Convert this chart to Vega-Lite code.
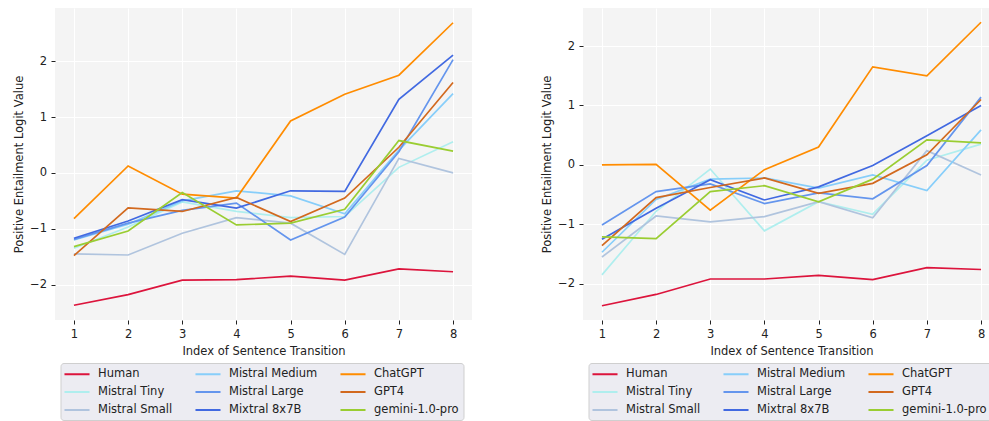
{
"$schema": "https://vega.github.io/schema/vega-lite/v6.json",
"padding": {"left": 13, "top": 8, "right": 0, "bottom": 0},
"background": "white",
"data": {"values": [
{"p":"A","m":"Human","x":1,"y":-2.37},{"p":"A","m":"Human","x":2,"y":-2.18},{"p":"A","m":"Human","x":3,"y":-1.92},{"p":"A","m":"Human","x":4,"y":-1.91},{"p":"A","m":"Human","x":5,"y":-1.85},{"p":"A","m":"Human","x":6,"y":-1.92},{"p":"A","m":"Human","x":7,"y":-1.72},{"p":"A","m":"Human","x":8,"y":-1.77},
{"p":"A","m":"Mistral Tiny","x":1,"y":-1.35},{"p":"A","m":"Mistral Tiny","x":2,"y":-0.97},{"p":"A","m":"Mistral Tiny","x":3,"y":-0.52},{"p":"A","m":"Mistral Tiny","x":4,"y":-0.69},{"p":"A","m":"Mistral Tiny","x":5,"y":-0.8},{"p":"A","m":"Mistral Tiny","x":6,"y":-0.78},{"p":"A","m":"Mistral Tiny","x":7,"y":0.1},{"p":"A","m":"Mistral Tiny","x":8,"y":0.56},
{"p":"A","m":"Mistral Small","x":1,"y":-1.45},{"p":"A","m":"Mistral Small","x":2,"y":-1.47},{"p":"A","m":"Mistral Small","x":3,"y":-1.08},{"p":"A","m":"Mistral Small","x":4,"y":-0.8},{"p":"A","m":"Mistral Small","x":5,"y":-0.9},{"p":"A","m":"Mistral Small","x":6,"y":-1.46},{"p":"A","m":"Mistral Small","x":7,"y":0.26},{"p":"A","m":"Mistral Small","x":8,"y":0.0},
{"p":"A","m":"Mistral Medium","x":1,"y":-1.2},{"p":"A","m":"Mistral Medium","x":2,"y":-0.92},{"p":"A","m":"Mistral Medium","x":3,"y":-0.5},{"p":"A","m":"Mistral Medium","x":4,"y":-0.32},{"p":"A","m":"Mistral Medium","x":5,"y":-0.41},{"p":"A","m":"Mistral Medium","x":6,"y":-0.73},{"p":"A","m":"Mistral Medium","x":7,"y":0.41},{"p":"A","m":"Mistral Medium","x":8,"y":1.42},
{"p":"A","m":"Mistral Large","x":1,"y":-1.19},{"p":"A","m":"Mistral Large","x":2,"y":-0.9},{"p":"A","m":"Mistral Large","x":3,"y":-0.67},{"p":"A","m":"Mistral Large","x":4,"y":-0.54},{"p":"A","m":"Mistral Large","x":5,"y":-1.2},{"p":"A","m":"Mistral Large","x":6,"y":-0.79},{"p":"A","m":"Mistral Large","x":7,"y":0.38},{"p":"A","m":"Mistral Large","x":8,"y":2.03},
{"p":"A","m":"Mixtral 8x7B","x":1,"y":-1.17},{"p":"A","m":"Mixtral 8x7B","x":2,"y":-0.86},{"p":"A","m":"Mixtral 8x7B","x":3,"y":-0.48},{"p":"A","m":"Mixtral 8x7B","x":4,"y":-0.63},{"p":"A","m":"Mixtral 8x7B","x":5,"y":-0.32},{"p":"A","m":"Mixtral 8x7B","x":6,"y":-0.33},{"p":"A","m":"Mixtral 8x7B","x":7,"y":1.32},{"p":"A","m":"Mixtral 8x7B","x":8,"y":2.11},
{"p":"A","m":"ChatGPT","x":1,"y":-0.82},{"p":"A","m":"ChatGPT","x":2,"y":0.125},{"p":"A","m":"ChatGPT","x":3,"y":-0.38},{"p":"A","m":"ChatGPT","x":4,"y":-0.45},{"p":"A","m":"ChatGPT","x":5,"y":0.93},{"p":"A","m":"ChatGPT","x":6,"y":1.41},{"p":"A","m":"ChatGPT","x":7,"y":1.75},{"p":"A","m":"ChatGPT","x":8,"y":2.69},
{"p":"A","m":"GPT4","x":1,"y":-1.48},{"p":"A","m":"GPT4","x":2,"y":-0.625},{"p":"A","m":"GPT4","x":3,"y":-0.69},{"p":"A","m":"GPT4","x":4,"y":-0.44},{"p":"A","m":"GPT4","x":5,"y":-0.87},{"p":"A","m":"GPT4","x":6,"y":-0.45},{"p":"A","m":"GPT4","x":7,"y":0.46},{"p":"A","m":"GPT4","x":8,"y":1.62},
{"p":"A","m":"gemini-1.0-pro","x":1,"y":-1.32},{"p":"A","m":"gemini-1.0-pro","x":2,"y":-1.04},{"p":"A","m":"gemini-1.0-pro","x":3,"y":-0.35},{"p":"A","m":"gemini-1.0-pro","x":4,"y":-0.93},{"p":"A","m":"gemini-1.0-pro","x":5,"y":-0.9},{"p":"A","m":"gemini-1.0-pro","x":6,"y":-0.65},{"p":"A","m":"gemini-1.0-pro","x":7,"y":0.58},{"p":"A","m":"gemini-1.0-pro","x":8,"y":0.39},
{"p":"B","m":"Human","x":1,"y":-2.37},{"p":"B","m":"Human","x":2,"y":-2.18},{"p":"B","m":"Human","x":3,"y":-1.92},{"p":"B","m":"Human","x":4,"y":-1.92},{"p":"B","m":"Human","x":5,"y":-1.86},{"p":"B","m":"Human","x":6,"y":-1.93},{"p":"B","m":"Human","x":7,"y":-1.73},{"p":"B","m":"Human","x":8,"y":-1.76},
{"p":"B","m":"Mistral Tiny","x":1,"y":-1.85},{"p":"B","m":"Mistral Tiny","x":2,"y":-0.78},{"p":"B","m":"Mistral Tiny","x":3,"y":-0.07},{"p":"B","m":"Mistral Tiny","x":4,"y":-1.11},{"p":"B","m":"Mistral Tiny","x":5,"y":-0.62},{"p":"B","m":"Mistral Tiny","x":6,"y":-0.83},{"p":"B","m":"Mistral Tiny","x":7,"y":0.08},{"p":"B","m":"Mistral Tiny","x":8,"y":0.35},
{"p":"B","m":"Mistral Small","x":1,"y":-1.55},{"p":"B","m":"Mistral Small","x":2,"y":-0.86},{"p":"B","m":"Mistral Small","x":3,"y":-0.96},{"p":"B","m":"Mistral Small","x":4,"y":-0.87},{"p":"B","m":"Mistral Small","x":5,"y":-0.62},{"p":"B","m":"Mistral Small","x":6,"y":-0.89},{"p":"B","m":"Mistral Small","x":7,"y":0.24},{"p":"B","m":"Mistral Small","x":8,"y":-0.17},
{"p":"B","m":"Mistral Medium","x":1,"y":-1.47},{"p":"B","m":"Mistral Medium","x":2,"y":-0.58},{"p":"B","m":"Mistral Medium","x":3,"y":-0.24},{"p":"B","m":"Mistral Medium","x":4,"y":-0.22},{"p":"B","m":"Mistral Medium","x":5,"y":-0.39},{"p":"B","m":"Mistral Medium","x":6,"y":-0.17},{"p":"B","m":"Mistral Medium","x":7,"y":-0.43},{"p":"B","m":"Mistral Medium","x":8,"y":0.59},
{"p":"B","m":"Mistral Large","x":1,"y":-1.01},{"p":"B","m":"Mistral Large","x":2,"y":-0.45},{"p":"B","m":"Mistral Large","x":3,"y":-0.32},{"p":"B","m":"Mistral Large","x":4,"y":-0.65},{"p":"B","m":"Mistral Large","x":5,"y":-0.47},{"p":"B","m":"Mistral Large","x":6,"y":-0.57},{"p":"B","m":"Mistral Large","x":7,"y":-0.01},{"p":"B","m":"Mistral Large","x":8,"y":1.14},
{"p":"B","m":"Mixtral 8x7B","x":1,"y":-1.25},{"p":"B","m":"Mixtral 8x7B","x":2,"y":-0.73},{"p":"B","m":"Mixtral 8x7B","x":3,"y":-0.25},{"p":"B","m":"Mixtral 8x7B","x":4,"y":-0.59},{"p":"B","m":"Mixtral 8x7B","x":5,"y":-0.37},{"p":"B","m":"Mixtral 8x7B","x":6,"y":-0.01},{"p":"B","m":"Mixtral 8x7B","x":7,"y":0.49},{"p":"B","m":"Mixtral 8x7B","x":8,"y":1.0},
{"p":"B","m":"ChatGPT","x":1,"y":0.0},{"p":"B","m":"ChatGPT","x":2,"y":0.01},{"p":"B","m":"ChatGPT","x":3,"y":-0.76},{"p":"B","m":"ChatGPT","x":4,"y":-0.08},{"p":"B","m":"ChatGPT","x":5,"y":0.3},{"p":"B","m":"ChatGPT","x":6,"y":1.65},{"p":"B","m":"ChatGPT","x":7,"y":1.5},{"p":"B","m":"ChatGPT","x":8,"y":2.4},
{"p":"B","m":"GPT4","x":1,"y":-1.36},{"p":"B","m":"GPT4","x":2,"y":-0.55},{"p":"B","m":"GPT4","x":3,"y":-0.38},{"p":"B","m":"GPT4","x":4,"y":-0.22},{"p":"B","m":"GPT4","x":5,"y":-0.48},{"p":"B","m":"GPT4","x":6,"y":-0.31},{"p":"B","m":"GPT4","x":7,"y":0.17},{"p":"B","m":"GPT4","x":8,"y":1.1},
{"p":"B","m":"gemini-1.0-pro","x":1,"y":-1.21},{"p":"B","m":"gemini-1.0-pro","x":2,"y":-1.24},{"p":"B","m":"gemini-1.0-pro","x":3,"y":-0.45},{"p":"B","m":"gemini-1.0-pro","x":4,"y":-0.35},{"p":"B","m":"gemini-1.0-pro","x":5,"y":-0.62},{"p":"B","m":"gemini-1.0-pro","x":6,"y":-0.24},{"p":"B","m":"gemini-1.0-pro","x":7,"y":0.42},{"p":"B","m":"gemini-1.0-pro","x":8,"y":0.37}
]},
"spacing": 69,
"resolve": {"scale": {"color": "independent", "x": "independent", "y": "independent"}, "legend": {"color": "independent"}},
"hconcat": [
{
"width": 417, "height": 312,
"transform": [{"filter": "datum.p == 'A'"}],
"mark": {"type": "line", "strokeWidth": 1.7},
"encoding": {
"x": {"field": "x", "type": "quantitative", "scale": {"domain": [0.65, 8.35], "nice": false, "zero": false}, "axis": {"values": [1,2,3,4,5,6,7,8], "title": "Index of Sentence Transition"}},
"y": {"field": "y", "type": "quantitative", "scale": {"domain": [-2.634, 2.954], "nice": false, "zero": false}, "axis": {"values": [-2,-1,0,1,2], "title": "Positive Entailment Logit Value"}},
"color": {"field": "m", "type": "nominal",
"scale": {"domain": ["Human","Mistral Tiny","Mistral Small","Mistral Medium","Mistral Large","Mixtral 8x7B","ChatGPT","GPT4","gemini-1.0-pro"],
"range": ["#dc143c","#afeeee","#b0c4de","#87cefa","#6495ed","#4169e1","#ff8c00","#d2691e","#9acd32"]},
"legend": {"orient": "none", "legendX": 5.5, "legendY": 355}}
}
},
{
"width": 417, "height": 312,
"transform": [{"filter": "datum.p == 'B'"}],
"mark": {"type": "line", "strokeWidth": 1.7},
"encoding": {
"x": {"field": "x", "type": "quantitative", "scale": {"domain": [0.65, 8.35], "nice": false, "zero": false}, "axis": {"values": [1,2,3,4,5,6,7,8], "title": "Index of Sentence Transition"}},
"y": {"field": "y", "type": "quantitative", "scale": {"domain": [-2.61, 2.64], "nice": false, "zero": false}, "axis": {"values": [-2,-1,0,1,2], "title": "Positive Entailment Logit Value"}},
"color": {"field": "m", "type": "nominal",
"scale": {"domain": ["Human","Mistral Tiny","Mistral Small","Mistral Medium","Mistral Large","Mixtral 8x7B","ChatGPT","GPT4","gemini-1.0-pro"],
"range": ["#dc143c","#afeeee","#b0c4de","#87cefa","#6495ed","#4169e1","#ff8c00","#d2691e","#9acd32"]},
"legend": {"orient": "none", "legendX": 5.5, "legendY": 355}}
}
}
],
"config": {
"font": "DejaVu Sans",
"view": {"fill": "#f4f4f4", "stroke": null},
"axis": {"domain": false, "tickColor": "#222222", "tickSize": 4, "tickWidth": 1, "labelFont": "DejaVu Sans", "labelFontSize": 11.5, "labelColor": "#222222", "labelPadding": 4.5, "titleFont": "DejaVu Sans", "titleFontSize": 11.5, "titleFontWeight": "normal", "titleColor": "#222222", "gridColor": "#ffffff", "gridWidth": 1, "gridOpacity": 1},
"axisX": {"titlePadding": 5},
"axisY": {"titlePadding": 5},
"legend": {"columns": 3, "gridAlign": "each", "symbolType": "M-2.18,0H2.18", "symbolSize": 132, "symbolStrokeWidth": 2, "symbolOffset": 5.5, "labelFont": "DejaVu Sans", "labelFontSize": 11.5, "labelColor": "#222222", "labelOffset": 14, "columnPadding": 18, "rowPadding": 5, "fillColor": "#ececf2", "strokeColor": "#cfcfcf", "cornerRadius": 3, "padding": 4, "title": null, "labelLimit": 200}
}
}
